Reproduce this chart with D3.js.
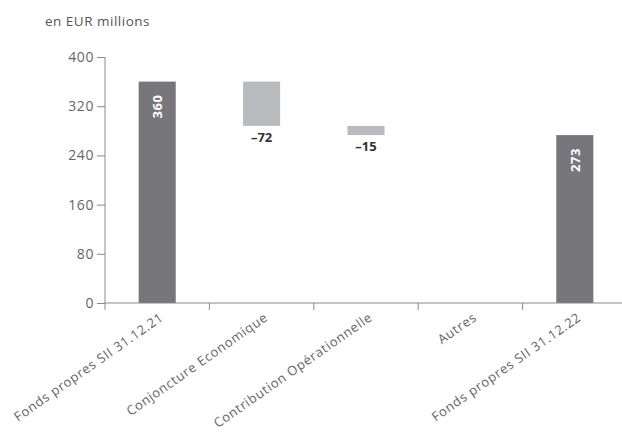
<!DOCTYPE html>
<html><head><meta charset="utf-8">
<script src="https://cdn.jsdelivr.net/npm/d3@7"></script>
<style>body{margin:0;background:#fff}svg{display:block}text{font-family:"Open Sans",sans-serif}</style>
</head><body><svg id="c" width="622" height="432"></svg>
<script>
const categories = ["Fonds propres SII 31.12.21","Conjoncture Economique","Contribution Opérationnelle","Autres","Fonds propres SII 31.12.22"];
const values = [360, -72, -15, 0, 273];
const kinds = ["total","delta","delta","delta","total"];
const yTicks = [0, 80, 160, 240, 320, 400];
const unitLabel = "en EUR millions";

// waterfall
let run = 0;
const data = categories.map((c,i)=>{
  let y0, y1;
  if (kinds[i]==="total"){ y0=0; y1=values[i]; run=values[i]; }
  else { y0=run; y1=run+values[i]; run=y1; }
  return {c, v:values[i], kind:kinds[i], lo:Math.min(y0,y1), hi:Math.max(y0,y1)};
});

const svg = d3.select("#c");
const x = d3.scaleBand().domain(categories).range([105, 627]).padding(0);
const y = d3.scaleLinear().domain([0,400]).range([303, 57]);
const axisColor = "#8a8a8a";

svg.append("text").attr("x",45).attr("y",26).attr("font-size",13.5).attr("letter-spacing","0.5px").attr("fill","#555").text(unitLabel);

// y axis
const ya = svg.append("g").attr("transform","translate(105,0)")
  .call(d3.axisLeft(y).tickValues(yTicks).tickSize(8).tickPadding(3));
ya.select(".domain").attr("stroke",axisColor).attr("d",`M0,${y(400)}V${y(0)}`);
ya.selectAll(".tick line").attr("stroke",axisColor);
ya.selectAll(".tick text").attr("font-size",14).attr("letter-spacing","0.6px").attr("fill","#666").attr("font-family","Open Sans, sans-serif");

// bars
const bw = x.bandwidth()*0.355;
svg.selectAll("rect.bar").data(data.filter(d=>d.hi>d.lo)).join("rect")
  .attr("x",d=>x(d.c)+x.bandwidth()/2-bw/2)
  .attr("y",d=>y(d.hi))
  .attr("width",bw)
  .attr("height",d=>y(d.lo)-y(d.hi))
  .attr("fill",d=>d.kind==="total"?"#77777b":"#b9babd");

// x axis
const xa = svg.append("g");
xa.append("line").attr("x1",105).attr("x2",622).attr("y1",y(0)).attr("y2",y(0)).attr("stroke",axisColor);
xa.selectAll("line.t").data(categories).join("line").attr("class","t")
  .attr("x1",d=>x(d)).attr("x2",d=>x(d)).attr("y1",y(0)).attr("y2",y(0)+7).attr("stroke",axisColor);
xa.selectAll("text").data(categories).join("text")
  .attr("transform",d=>`translate(${x(d)+x.bandwidth()/2+2},${y(0)+9}) rotate(-35)`)
  .attr("text-anchor","end").attr("font-size",13).attr("letter-spacing","0.7px").attr("fill","#666").attr("dy","0.7em").text(d=>d);

// value labels
data.forEach(d=>{
  const cx = x(d.c)+x.bandwidth()/2;
  if (d.kind==="total"){
    svg.append("text").attr("transform",`translate(${cx+5},${y(d.hi)+13}) rotate(-90)`)
      .attr("text-anchor","end").attr("font-size",13).attr("font-weight","bold").attr("letter-spacing","0.5px").attr("fill","#fff").text(d.v);
  } else if (d.v!==0){
    svg.append("text").attr("x",cx).attr("y",y(d.lo)+16).attr("text-anchor","middle")
      .attr("font-size",13).attr("font-weight","bold").attr("fill","#333").text("–"+Math.abs(d.v));
  }
});
</script></body></html>
